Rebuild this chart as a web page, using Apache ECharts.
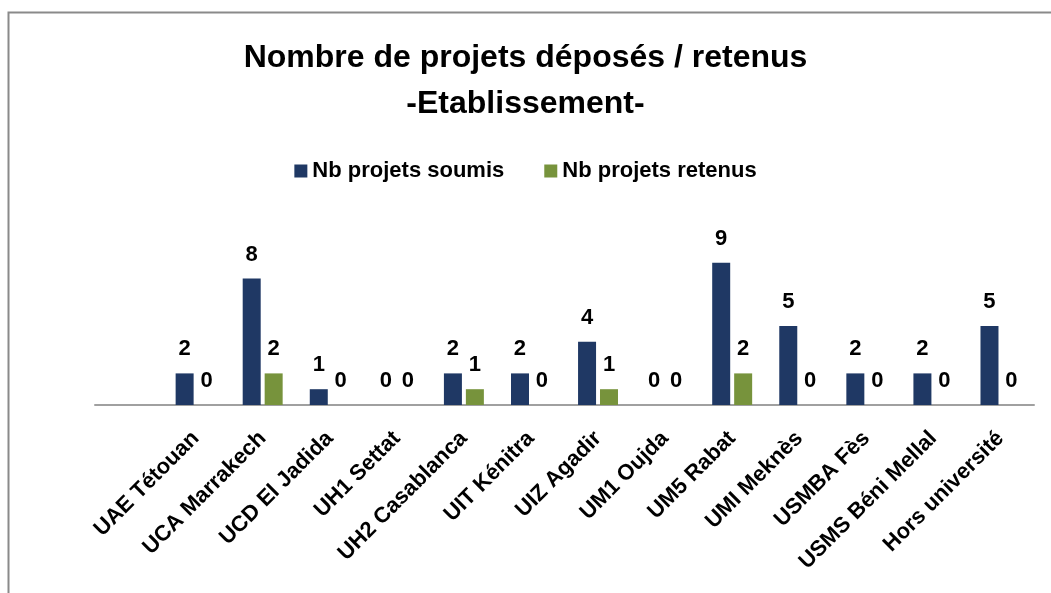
<!DOCTYPE html>
<html>
<head>
<meta charset="utf-8">
<script src="https://cdn.jsdelivr.net/npm/echarts@6/dist/echarts.min.js"></script>
<style>
  html, body { margin: 0; padding: 0; background: #fff; }
  #chart { width: 1051px; height: 593px; }
</style>
</head>
<body>
<div id="chart"></div>
<script>
// first slot is empty in the original (axis line starts before UAE)
var etablissements = ['', 'UAE Tétouan', 'UCA Marrakech', 'UCD El Jadida', 'UH1 Settat',
  'UH2 Casablanca', 'UIT Kénitra', 'UIZ Agadir', 'UM1 Oujda', 'UM5 Rabat',
  'UMI Meknès', 'USMBA Fès', 'USMS Béni Mellal', 'Hors université'];
var soumis = [null, 2, 8, 1, 0, 2, 2, 4, 0, 9, 5, 2, 2, 5];
var retenus = [null, 0, 2, 0, 0, 1, 0, 1, 0, 2, 0, 0, 0, 0];

var myChart = echarts.init(document.getElementById('chart'));
var font = 'Liberation Sans';

var labelStyle = {
  show: true,
  position: 'top',
  distance: 13,
  color: '#000',
  fontFamily: font,
  fontWeight: 'bold',
  fontSize: 22
};

option = {
  backgroundColor: '#fff',
  animation: false,
  graphic: [{
    type: 'rect',
    shape: { x: 8.5, y: 12.5, width: 1100, height: 650 },
    style: { fill: 'none', stroke: '#8a8a8a', lineWidth: 2 },
    silent: true
  }],
  title: {
    text: 'Nombre de projets déposés / retenus\n-Etablissement-',
    left: 'center',
    top: 30,
    textStyle: {
      fontFamily: font,
      fontWeight: 'bold',
      fontSize: 32,
      lineHeight: 46,
      color: '#000'
    }
  },
  legend: {
    top: 155,
    left: 'center',
    itemWidth: 13,
    itemHeight: 13,
    itemGap: 40,
    icon: 'rect',
    textStyle: {
      fontFamily: font,
      fontWeight: 'bold',
      fontSize: 22,
      color: '#000'
    },
    data: ['Nb projets soumis', 'Nb projets retenus']
  },
  grid: {
    left: 95,
    right: 17,
    top: 247,
    bottom: 188,
    containLabel: false
  },
  xAxis: {
    type: 'category',
    data: etablissements,
    axisLine: { lineStyle: { color: '#a0a0a0', width: 2 } },
    axisTick: { show: false },
    axisLabel: {
      interval: 0,
      rotate: 45,
      margin: 30,
      color: '#000',
      fontFamily: font,
      fontWeight: 'bold',
      fontSize: 22
    }
  },
  yAxis: {
    type: 'value',
    min: 0,
    max: 10,
    show: false,
    splitLine: { show: false }
  },
  series: [
    {
      name: 'Nb projets soumis',
      type: 'bar',
      data: soumis,
      barWidth: 18,
      barGap: '22%',
      itemStyle: { color: '#1f3864' },
      label: labelStyle
    },
    {
      name: 'Nb projets retenus',
      type: 'bar',
      data: retenus,
      barWidth: 18,
      itemStyle: { color: '#77933c' },
      label: labelStyle
    }
  ]
};
myChart.setOption(option);
</script>
</body>
</html>
